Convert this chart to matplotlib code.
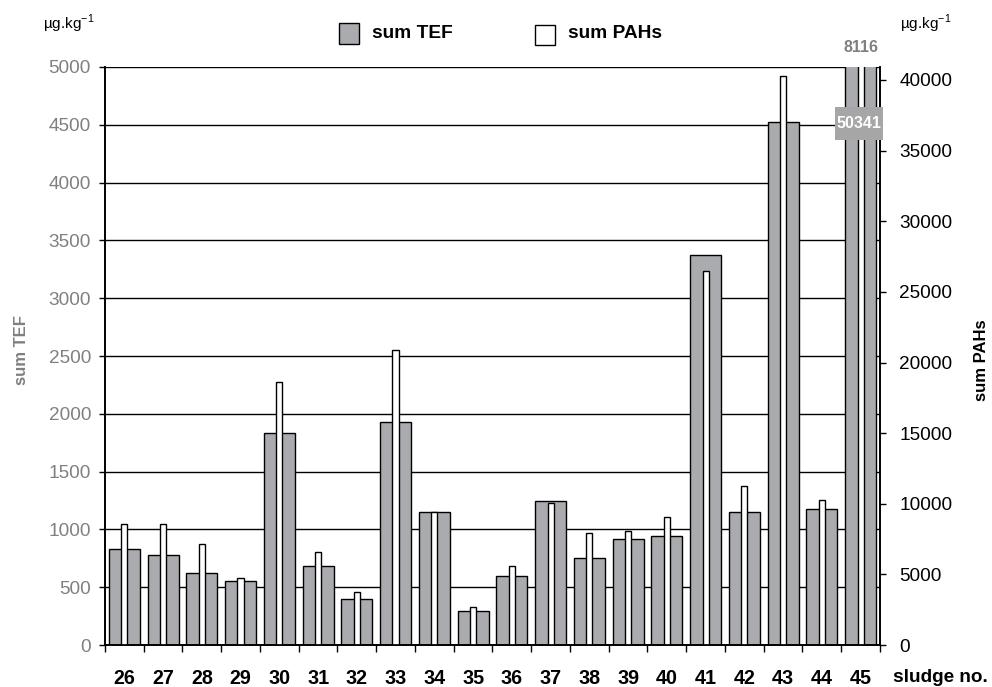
import matplotlib
matplotlib.use("Agg")
import matplotlib.pyplot as plt
import numpy as np

plt.rcParams['font.family'] = ['Liberation Sans', 'DejaVu Sans']

sludge = ['26', '27', '28', '29', '30', '31', '32', '33', '34', '35',
          '36', '37', '38', '39', '40', '41', '42', '43', '44', '45']
sum_tef = [830, 780, 625, 550, 1830, 680, 400, 1930, 1150, 290,
           600, 1245, 750, 915, 940, 3370, 1150, 4520, 1180, 8116]
sum_pahs = [8570, 8570, 7150, 4720, 18650, 6560, 3780, 20870, 9430, 2690,
            5590, 10080, 7900, 8100, 9090, 26480, 11280, 40300, 10240, 50341]

left_ticks = list(range(0, 5001, 500))
right_ticks = list(range(0, 40001, 5000))

GRAY = '#aaabaf'
x = np.arange(len(sludge))

fig = plt.figure(figsize=(9.92, 6.87), dpi=100)
ax = fig.add_axes([0.1058, 0.0611, 0.7813, 0.8414])
ax2 = ax.twinx()

ax.set_axisbelow(True)
ax.yaxis.grid(True, color='black', linewidth=1)
ax.bar(x, sum_tef, width=0.8, color=GRAY, edgecolor='black', linewidth=1, zorder=2)
ax2.bar(x, sum_pahs, width=0.16, color='white', edgecolor='black', linewidth=1, zorder=2)

ax.set_xlim(-0.5, len(sludge) - 0.5)
ax.set_ylim(0, 5000)
ax2.set_ylim(0, 40920)

ax.set_yticks(left_ticks)
ax.set_yticklabels([str(v) for v in left_ticks], color='#808080', fontsize=13.7)
ax2.set_yticks(right_ticks)
ax2.set_yticklabels([str(v) for v in right_ticks], color='black', fontsize=13.7)
ax.tick_params(axis='y', length=4, width=1, pad=6)
ax2.tick_params(axis='y', length=4, width=1, pad=10)

# x ticks at group boundaries, labels at centers
ax.set_xticks(np.arange(-0.5, len(sludge), 1.0))
ax.set_xticklabels([])
ax.set_xticks(x, minor=True)
ax.set_xticklabels(sludge, minor=True, fontsize=14.2, fontweight='bold')
ax.tick_params(axis='x', which='major', length=5, width=1, direction='out')
ax.tick_params(axis='x', which='minor', length=0, pad=17)

for a in (ax, ax2):
    a.spines['top'].set_visible(False)
    a.spines['left'].set_linewidth(1.2)
    a.spines['right'].set_linewidth(1.2)
    a.spines['bottom'].set_linewidth(1.2)

fig.text(22 / 992, 1 - 350 / 687, 'sum TEF', rotation=90, ha='center', va='center',
         fontsize=12, fontweight='bold', color='#808080')
fig.text(982 / 992, 1 - 360 / 687, 'sum PAHs', rotation=90, ha='center', va='center',
         fontsize=12, fontweight='bold', color='black')
fig.text(893 / 992, 1 - 677 / 687, 'sludge no.', ha='left', va='center',
         fontsize=13.7, fontweight='bold')
fig.text(43 / 992, 1 - 24 / 687, r'µg.kg$^{\mathregular{-1}}$', ha='left', va='center', fontsize=11)
fig.text(900 / 992, 1 - 24 / 687, r'µg.kg$^{\mathregular{-1}}$', ha='left', va='center', fontsize=11)

# legend
fig.patches.append(plt.Rectangle((339 / 992, 1 - 44 / 687), 20 / 992, 21 / 687,
                                 transform=fig.transFigure, facecolor=GRAY,
                                 edgecolor='black', linewidth=1))
fig.text(372 / 992, 1 - 33 / 687, 'sum TEF', ha='left', va='center', fontsize=13.8, fontweight='bold')
fig.patches.append(plt.Rectangle((535 / 992, 1 - 45 / 687), 20 / 992, 20 / 687,
                                 transform=fig.transFigure, facecolor='white',
                                 edgecolor='black', linewidth=1))
fig.text(568 / 992, 1 - 33 / 687, 'sum PAHs', ha='left', va='center', fontsize=13.8, fontweight='bold')

# value annotations for the clipped bars
last = len(sludge) - 1
ax.annotate(str(sum_tef[last]), xy=(x[last], 5000), xytext=(0, 14), textcoords='offset points',
            ha='center', va='center', fontsize=11.5, fontweight='bold', color='#808080',
            annotation_clip=False)
box = plt.Rectangle((x[last] - 0.66, 35750), 1.24, 2340, facecolor='#a6a6a6',
                    edgecolor='none', zorder=4, clip_on=False)
ax2.add_patch(box)
ax2.text(x[last] - 0.04, 36920, str(sum_pahs[last]), ha='center', va='center', fontsize=11.5,
         fontweight='bold', color='white', zorder=5)

fig.savefig('out.png', dpi=100)
